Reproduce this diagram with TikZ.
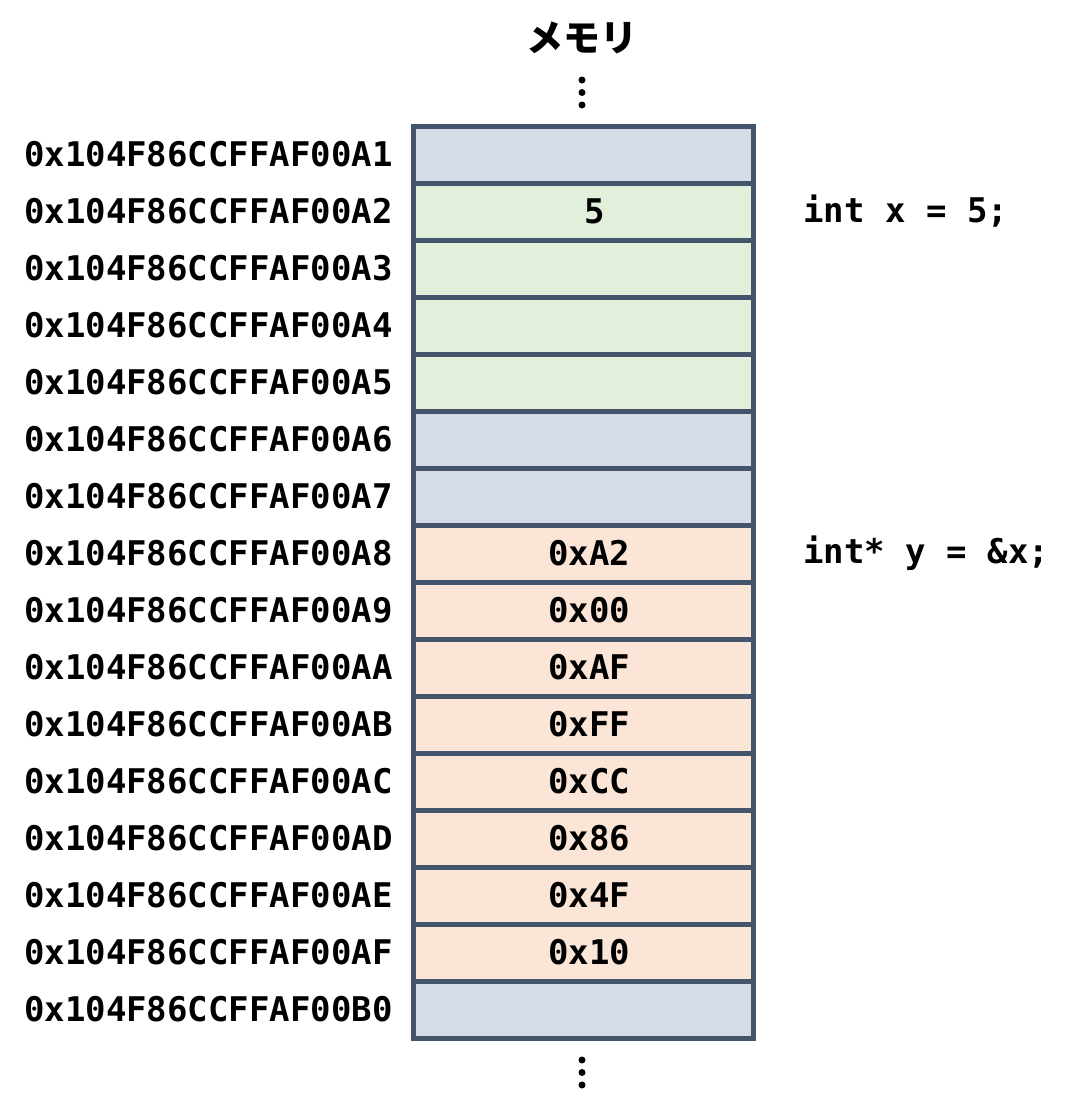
\documentclass[tikz,border=0pt]{standalone}
\usepackage{fontspec}
\setmonofont{DejaVu Sans Mono}
\newfontfamily\jpfont{Noto Sans CJK JP}
\usepackage{xcolor}
\usepackage{tikz}
\definecolor{kant}{HTML}{44546A}
\definecolor{fri}{HTML}{D6DCE5}
\definecolor{xfarge}{HTML}{E2EFDA}
\definecolor{yfarge}{HTML}{FBE5D6}

\begin{document}
\begin{tikzpicture}[x=0.5pt, y=-0.5pt,
	celle/.style={draw=kant, line width=2.5pt, minimum width=170pt, minimum height=28.5pt, inner sep=0pt, font=\ttfamily\bfseries\fontsize{17}{20}\selectfont},
	adr/.style={anchor=east, inner sep=0pt, font=\ttfamily\bfseries\fontsize{17}{20}\selectfont},
	kode/.style={anchor=west, inner sep=0pt, font=\ttfamily\bfseries\fontsize{17}{20}\selectfont},
	prikk/.style={fill=black}]
	\useasboundingbox (0,0) rectangle (1072,1114);

	%Overskrift
	\node[font=\jpfont\bfseries\fontsize{18.5}{22}\selectfont] (tittel) at (582,38) {メモリ};
	\fill[prikk] (582,80) circle (3.5) (582,92.5) circle (3.5) (582,105) circle (3.5);

	%Cellene går her
	\node[celle, fill=fri] (c1) at (583,154.5) {};
	\node[celle, fill=xfarge] (c2) at (583,211.5) {\hspace*{12pt}5};
	\node[celle, fill=xfarge] (c3) at (583,268.5) {};
	\node[celle, fill=xfarge] (c4) at (583,325.5) {};
	\node[celle, fill=xfarge] (c5) at (583,382.5) {};
	\node[celle, fill=fri] (c6) at (583,439.5) {};
	\node[celle, fill=fri] (c7) at (583,496.5) {};
	\node[celle, fill=yfarge] (c8) at (583,553.5) {\hspace*{6pt}0xA2};
	\node[celle, fill=yfarge] (c9) at (583,610.5) {\hspace*{6pt}0x00};
	\node[celle, fill=yfarge] (c10) at (583,667.5) {\hspace*{6pt}0xAF};
	\node[celle, fill=yfarge] (c11) at (583,724.5) {\hspace*{6pt}0xFF};
	\node[celle, fill=yfarge] (c12) at (583,781.5) {\hspace*{6pt}0xCC};
	\node[celle, fill=yfarge] (c13) at (583,838.5) {\hspace*{6pt}0x86};
	\node[celle, fill=yfarge] (c14) at (583,895.5) {\hspace*{6pt}0x4F};
	\node[celle, fill=yfarge] (c15) at (583,952.5) {\hspace*{6pt}0x10};
	\node[celle, fill=fri] (c16) at (583,1009.5) {};

	\fill[prikk] (582,1060) circle (3.5) (582,1072.5) circle (3.5) (582,1085) circle (3.5);

	%Adressene
	\node[adr] (a1) at (393,154.5) {0x104F86CCFFAF00A1};
	\node[adr] (a2) at (393,211.5) {0x104F86CCFFAF00A2};
	\node[adr] (a3) at (393,268.5) {0x104F86CCFFAF00A3};
	\node[adr] (a4) at (393,325.5) {0x104F86CCFFAF00A4};
	\node[adr] (a5) at (393,382.5) {0x104F86CCFFAF00A5};
	\node[adr] (a6) at (393,439.5) {0x104F86CCFFAF00A6};
	\node[adr] (a7) at (393,496.5) {0x104F86CCFFAF00A7};
	\node[adr] (a8) at (393,553.5) {0x104F86CCFFAF00A8};
	\node[adr] (a9) at (393,610.5) {0x104F86CCFFAF00A9};
	\node[adr] (a10) at (393,667.5) {0x104F86CCFFAF00AA};
	\node[adr] (a11) at (393,724.5) {0x104F86CCFFAF00AB};
	\node[adr] (a12) at (393,781.5) {0x104F86CCFFAF00AC};
	\node[adr] (a13) at (393,838.5) {0x104F86CCFFAF00AD};
	\node[adr] (a14) at (393,895.5) {0x104F86CCFFAF00AE};
	\node[adr] (a15) at (393,952.5) {0x104F86CCFFAF00AF};
	\node[adr] (a16) at (393,1009.5) {0x104F86CCFFAF00B0};

	%Koden til høyre
	\node[kode] (kx) at (803,211.5) {int x = 5;};
	\node[kode] (ky) at (803,553.5) {int* y = \&x;};
\end{tikzpicture}
\end{document}
